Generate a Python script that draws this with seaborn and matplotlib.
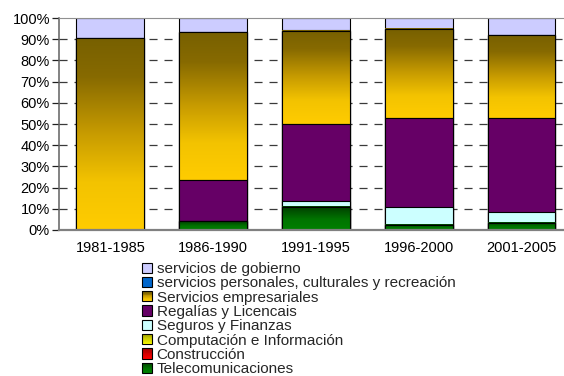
import numpy as np
import pandas as pd
import matplotlib
matplotlib.use("Agg")
import matplotlib.pyplot as plt
import seaborn as sns
from matplotlib.colors import LinearSegmentedColormap
from matplotlib.patches import Patch, Rectangle
from matplotlib.legend_handler import HandlerBase

# ---- data (share of services trade, %) ----
periods = ["1981-1985", "1986-1990", "1991-1995", "1996-2000", "2001-2005"]
telecomunicaciones = [0.0, 4.1, 10.9, 2.4, 3.5]
construccion = [0.0, 0.0, 0.0, 0.0, 0.0]
computacion = [0.0, 0.0, 0.0, 0.0, 0.0]
seguros_finanzas = [0.0, 0.0, 2.8, 8.3, 5.1]
regalias = [0.0, 19.5, 36.3, 42.0, 44.4]
empresariales = [90.5, 69.6, 43.9, 42.1, 39.1]
personales = [0.0, 0.0, 0.5, 0.0, 0.0]
gobierno = [9.5, 6.8, 5.6, 5.2, 7.9]

labels_bottom_up = [
    "Telecomunicaciones",
    "Construcción",
    "Computación e Información",
    "Seguros y Finanzas",
    "Regalías y Licencais",
    "Servicios empresariales",
    "servicios personales, culturales y recreación",
    "servicios de gobierno",
]
yticks = [0, 10, 20, 30, 40, 50, 60, 70, 80, 90, 100]

# ---- styling ----
sns.set_style("white")
plt.rcParams["font.family"] = ["Liberation Sans", "DejaVu Sans"]
plt.rcParams["lines.scale_dashes"] = False
FS = 10.5
FS_LEG = 11.0

grad_emp = LinearSegmentedColormap.from_list(
    "emp", [(0, "#FFCC00"), (0.25, "#F3C300"), (0.5, "#C89C00"), (0.8, "#876A00"), (1, "#776000")])
grad_tel = LinearSegmentedColormap.from_list(
    "tel", [(0, "#008000"), (0.45, "#007400"), (1, "#003C00")])
grad_con = LinearSegmentedColormap.from_list("con", [(0, "#FF0000"), (1, "#A00000")])
grad_com = LinearSegmentedColormap.from_list("com", [(0, "#FFFF00"), (1, "#A0A000")])

series = [
    (telecomunicaciones, "#008000", grad_tel),
    (construccion, "#FF0000", grad_con),
    (computacion, "#FFFF00", grad_com),
    (seguros_finanzas, "#CCFFFF", None),
    (regalias, "#660066", None),
    (empresariales, "#FFCC00", grad_emp),
    (personales, "#0066CC", None),
    (gobierno, "#CCCCFF", None),
]

fig = plt.figure(figsize=(5.64, 3.76), dpi=100)
ax = fig.add_axes([0.1046, 0.3883, 0.9113, 0.5638])

bar_w = 0.66
xpos = np.arange(len(periods))
vals = np.array([s[0] for s in series])
tops = np.cumsum(vals, axis=0)
bottoms = tops - vals

z = 2
# draw from the top of the stack downwards, each bar reaching its cumulative top
for i in range(len(series) - 1, -1, -1):
    v, col, cmap = series[i]
    if not np.any(np.array(v) > 0):
        continue
    df = pd.DataFrame({"periodo": periods, "top": tops[i]})
    sns.barplot(data=df, x="periodo", y="top", color=col, saturation=1,
                width=bar_w, edgecolor="black", linewidth=0.8,
                errorbar=None, ax=ax, zorder=z)
    z += 1
    if cmap is not None:
        grad = cmap(np.linspace(0, 1, 256))[:, None, :3]
        for j in range(len(periods)):
            if vals[i][j] <= 0:
                continue
            ax.imshow(grad, extent=(xpos[j] - bar_w / 2, xpos[j] + bar_w / 2,
                                    bottoms[i][j], tops[i][j]),
                      origin="lower", aspect="auto", interpolation="bilinear",
                      zorder=z)
            ax.add_patch(Rectangle((xpos[j] - bar_w / 2, bottoms[i][j]), bar_w,
                                   vals[i][j], fill=False, edgecolor="black",
                                   linewidth=0.8, zorder=z + 0.5))
        z += 1

# ---- axes ----
ax.set_xlim(-0.5, len(periods) - 0.5)
ax.set_ylim(0, 100)
ax.set_xlabel("")
ax.set_ylabel("")
ax.set_yticks(yticks)
ax.set_yticklabels([f"{t}%" for t in yticks], fontsize=FS, color="black")
ax.set_xticks(xpos)
ax.set_xticklabels(periods, fontsize=FS, color="black")
ax.set_xticks(xpos[:-1] + 0.5, minor=True)
ax.tick_params(axis="x", which="major", length=0, pad=8)
ax.tick_params(axis="x", which="minor", length=4, width=1, color="#404040", direction="out")
ax.tick_params(axis="y", which="major", length=5, width=0.9, color="#202020",
               direction="out", pad=1.5, left=True)

for y in yticks[1:-1]:
    ax.axhline(y, color="#3A3A3A", linewidth=0.9, dashes=(5.8, 5.0), zorder=0.5)

ax.spines["left"].set_color("#606060")
ax.spines["left"].set_linewidth(1.1)
ax.spines["bottom"].set_color("#808080")
ax.spines["bottom"].set_linewidth(1.6)
ax.spines["top"].set_color("#909090")
ax.spines["top"].set_linewidth(0.8)
ax.spines["right"].set_visible(False)
for sp in ax.spines.values():
    sp.set_zorder(20)

# ---- legend ----
class Gradient:
    def __init__(self, cmap):
        self.cmap = cmap


class GradientHandler(HandlerBase):
    def create_artists(self, legend, orig_handle, xdescent, ydescent, width,
                       height, fontsize, trans):
        n = 12
        arts = []
        for k in range(n):
            arts.append(Rectangle((-xdescent, -ydescent + height * k / n), width,
                                  height / n + 0.05,
                                  facecolor=orig_handle.cmap((k + 0.5) / n),
                                  edgecolor="none", transform=trans))
        arts.append(Rectangle((-xdescent, -ydescent), width, height,
                              facecolor="none", edgecolor="black", linewidth=0.8,
                              transform=trans))
        return arts


handles = []
for v, col, cmap in series:
    if cmap is not None:
        handles.append(Gradient(cmap))
    else:
        handles.append(Patch(facecolor=col, edgecolor="black", linewidth=0.8))

fig.legend(handles[::-1], labels_bottom_up[::-1],
           handler_map={Gradient: GradientHandler()},
           loc="upper left", bbox_to_anchor=(142 / 564, 1 - 262 / 376),
           frameon=False, fontsize=FS_LEG, borderpad=0, borderaxespad=0,
           handlelength=0.65, handleheight=0.65, handletextpad=0.3,
           labelspacing=0.02)

fig.savefig("out.png", dpi=100)
